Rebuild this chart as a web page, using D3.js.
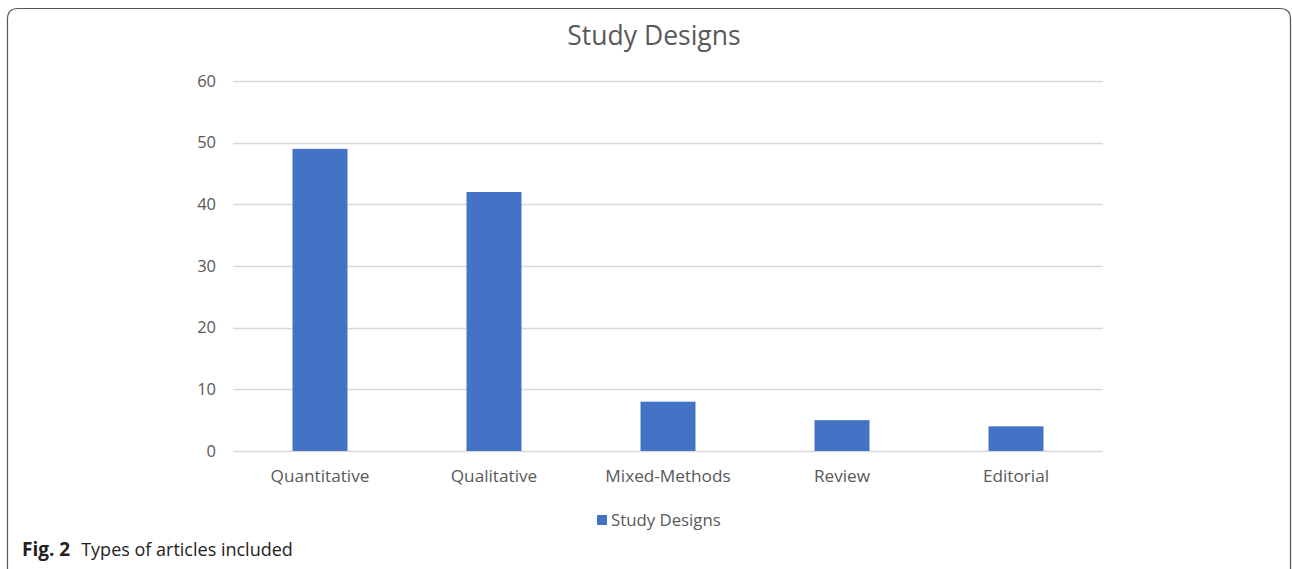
<!DOCTYPE html>
<html>
<head>
<meta charset="utf-8">
<script src="https://cdn.jsdelivr.net/npm/d3@7"></script>
<style>
  html, body { margin: 0; padding: 0; background: #fff; }
  svg { display: block; }
</style>
</head>
<body>
<svg id="chart" width="1292" height="569"></svg>
<script>
// Study design counts
const categories = ["Quantitative", "Qualitative", "Mixed-Methods", "Review", "Editorial"];
const counts = [49, 42, 8, 5, 4];
const yTicks = [0, 10, 20, 30, 40, 50, 60];
const seriesName = "Study Designs";
const chartTitle = "Study Designs";

const svg = d3.select("#chart");
const textColor = "#595959";
const barColor = "#4472C4";
const font = "'Open Sans', 'Noto Sans', sans-serif";

// Rounded frame around the figure
svg.append("path")
  .attr("d", "M7.5,575 L7.5,19 Q7.5,8.5 18,8.5 L1280,8.5 Q1290.5,8.5 1290.5,19 L1290.5,575")
  .attr("fill", "none")
  .attr("stroke", "#555")
  .attr("stroke-width", 1.2);

const plot = { left: 233, right: 1103, top: 81, bottom: 451 };

const x = d3.scaleBand()
  .domain(categories)
  .range([plot.left, plot.right])
  .paddingInner(0.684)
  .paddingOuter(0.342);

const y = d3.scaleLinear()
  .domain([0, 60])
  .range([plot.bottom, plot.top]);

// Gridlines
svg.append("g")
  .selectAll("line")
  .data(yTicks)
  .join("line")
  .attr("x1", plot.left)
  .attr("x2", plot.right)
  .attr("y1", d => Math.round(y(d)) + 0.5)
  .attr("y2", d => Math.round(y(d)) + 0.5)
  .attr("stroke", "#d9d9d9")
  .attr("stroke-width", 1.3);

// Y axis labels
const yAxis = d3.axisLeft(y).tickValues(yTicks).tickSize(0).tickPadding(17);
const yg = svg.append("g").attr("transform", `translate(${plot.left},0)`).call(yAxis);
yg.select(".domain").remove();
yg.selectAll("text")
  .attr("fill", textColor)
  .style("font-family", font)
  .style("font-size", "16.5px");

// Bars
svg.append("g")
  .selectAll("rect")
  .data(categories.map((c, i) => ({ c, v: counts[i] })))
  .join("rect")
  .attr("x", d => x(d.c))
  .attr("width", x.bandwidth())
  .attr("y", d => y(d.v))
  .attr("height", d => y(0) - y(d.v))
  .attr("fill", barColor);

// X axis labels
const xAxis = d3.axisBottom(x).tickSize(0).tickPadding(19);
const xg = svg.append("g").attr("transform", `translate(0,${plot.bottom})`).call(xAxis);
xg.select(".domain").remove();
xg.selectAll("text")
  .attr("fill", textColor)
  .style("font-family", font)
  .style("font-size", "17.2px");

// Title
svg.append("text")
  .attr("x", 654)
  .attr("y", 45)
  .attr("text-anchor", "middle")
  .attr("fill", textColor)
  .style("font-family", font)
  .style("font-size", "26.5px")
  .text(chartTitle);

// Legend
const legend = svg.append("g").attr("transform", "translate(597,515)");
legend.append("rect").attr("width", 10).attr("height", 10).attr("fill", barColor);
legend.append("text")
  .attr("x", 14)
  .attr("y", 10.5)
  .attr("fill", textColor)
  .style("font-family", font)
  .style("font-size", "16.8px")
  .text(seriesName);

// Caption
const cap = svg.append("text")
  .attr("x", 22)
  .attr("y", 556)
  .attr("fill", "#222")
  .style("font-family", "'Open Sans', 'Noto Sans', sans-serif")
  .style("font-size", "18px");
cap.append("tspan").style("font-weight", "bold").style("font-size", "19px").text("Fig. 2");
cap.append("tspan").attr("dx", 11).text("Types of articles included");
</script>
</body>
</html>
